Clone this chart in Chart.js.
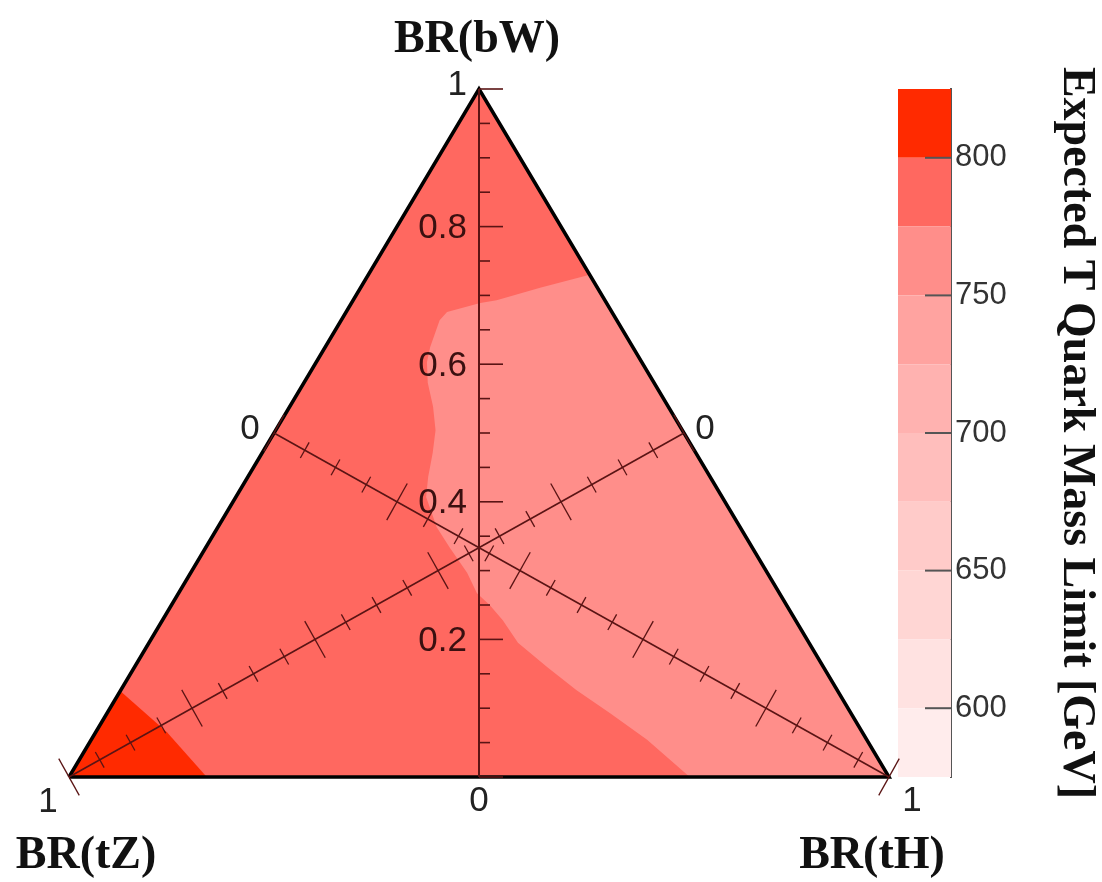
<!DOCTYPE html>
<html><head><meta charset="utf-8">
<script src="https://cdn.jsdelivr.net/npm/chart.js@4.4.1/dist/chart.umd.min.js"></script>
<style>html,body{margin:0;padding:0;background:#fff;overflow:hidden}#wrap{position:relative;width:1102px;height:882px}</style>
</head><body><div id="wrap"><canvas id="c"></canvas></div>
<script>
// ---------------- data ----------------
// colour levels of the expected limit (GeV)
const levelEdges  = [575, 600, 625, 650, 675, 700, 725, 750, 775, 800, 825];
const levelColors = ['#ffecec', '#ffe2e1', '#ffd6d4', '#ffcbc9', '#ffbebc', '#ffb2b0', '#ffa3a0', '#ff8e8a', '#ff6860', '#ff2a00'];
const colorbarTicks = [600, 650, 700, 750, 800];

// contour regions, each point is [BR(bW), BR(tH)]  (BR(tZ) = 1 - the two)
const regionAll = [[0, 0], [0, 1], [1, 0]];
const regionAllLevel = 775;
const regionLight = [[0.73, 0.27], [0.711, 0.219], [0.693, 0.175], [0.689, 0.157], [0.676, 0.123], [0.664, 0.120],
  [0.625, 0.128], [0.603, 0.135], [0.573, 0.151], [0.538, 0.175], [0.504, 0.195], [0.471, 0.208], [0.436, 0.220],
  [0.407, 0.232], [0.363, 0.267], [0.334, 0.297], [0.297, 0.337], [0.267, 0.364], [0.250, 0.388], [0.228, 0.415],
  [0.195, 0.450], [0.160, 0.503], [0.126, 0.556], [0.093, 0.613], [0.054, 0.678], [0, 0.757], [0, 1]];
const regionLightLevel = 750;
const regionCorner = [[0, 0], [0.125, 0], [0.065, 0.087], [0, 0.168]];
const regionCornerLevel = 800;

// ternary axis ticks
const axisTicks  = [0, 0.05, 0.1, 0.15, 0.2, 0.25, 0.3, 0.35, 0.4, 0.45, 0.5, 0.55, 0.6, 0.65, 0.7, 0.75, 0.8, 0.85, 0.9, 0.95, 1];
const majorTicks = [0, 0.2, 0.4, 0.6, 0.8, 1];
const vertLabels = ['0', '0.2', '0.4', '0.6', '0.8', '1'];

const titleTop = 'BR(bW)', titleLeft = 'BR(tZ)', titleRight = 'BR(tH)';
const cbTitle = 'Expected T Quark Mass Limit [GeV]';

// ---------------- layout (pixels) ----------------
const L = { left: 69, triRight: 889, top: 89, bottom: 777, barLeft: 898, barRight: 951, W: 1102, H: 882 };
const xMax = (L.barRight - L.left) / (L.triRight - L.left);
const cbX0 = (L.barLeft - L.left) / (L.triRight - L.left);

const toXY = p => ({ x: p[1] + p[0] / 2, y: p[0] });
const colorOf = lvl => levelColors[levelEdges.indexOf(lvl)];

function region(points, lvl, order) {
  return { data: points.map(toXY), showLine: true, fill: 'shape', backgroundColor: colorOf(lvl),
    borderColor: 'rgba(0,0,0,0)', borderWidth: 0, pointRadius: 0, tension: 0, order };
}

const datasets = [];
datasets.push({ data: [[0, 0], [0, 1], [1, 0], [0, 0]].map(toXY), showLine: true, fill: false, borderColor: '#000',
  borderWidth: 3.5, pointRadius: 0, order: 0, clip: false, borderJoinStyle: 'miter' });
datasets.push(region(regionAll, regionAllLevel, 10));
datasets.push(region(regionLight, regionLightLevel, 9));
datasets.push(region(regionCorner, regionCornerLevel, 8));
for (let i = 0; i < levelColors.length; i++) {
  const a = levelEdges[i], b = levelEdges[i + 1];
  datasets.push({ data: [{ x: cbX0, y: a }, { x: xMax, y: a }, { x: xMax, y: b }, { x: cbX0, y: b }],
    yAxisID: 'yc', showLine: true, fill: 'shape', backgroundColor: levelColors[i], borderColor: 'rgba(0,0,0,0)',
    borderWidth: 0, pointRadius: 0, order: 5 });
}

const sans = '"Liberation Sans", Arial, Helvetica, sans-serif';
const serif = '"Liberation Serif", "Times New Roman", serif';

const ternPlugin = {
  id: 'tern',
  afterDatasetsDraw(chart) {
    const { ctx, scales } = chart;
    const xs = scales.x, ys = scales.y, yc = scales.yc;
    const P = (bW, tH) => [xs.getPixelForValue(tH + bW / 2), ys.getPixelForValue(bW)];
    const seg = (a, b) => { ctx.beginPath(); ctx.moveTo(a[0], a[1]); ctx.lineTo(b[0], b[1]); ctx.stroke(); };
    const text = (s, x, y, font, align, base, color) => {
      ctx.font = font; ctx.textAlign = align; ctx.textBaseline = base; ctx.fillStyle = color; ctx.fillText(s, x, y);
    };
    ctx.save();
    // colour bar tick marks
    ctx.strokeStyle = '#555'; ctx.lineWidth = 2;
    for (const v of colorbarTicks) { const py = yc.getPixelForValue(v); seg([yc.left - 26, py], [yc.left, py]); }

    const axisColor = '#5a1414';
    // vertical BR(bW) axis
    ctx.strokeStyle = axisColor; ctx.lineWidth = 2;
    seg(P(0, 0.5), P(1, 0));
    ctx.lineWidth = 1.6;
    for (const v of axisTicks) {
      const p = P(v, (1 - v) / 2);
      const len = majorTicks.includes(v) ? 24 : 11;
      seg(p, [p[0] + len, p[1]]);
    }
    majorTicks.forEach((v, i) => {
      const p = P(v, (1 - v) / 2);
      if (v === 0) text(vertLabels[i], p[0], p[1] + 24, '35px ' + sans, 'center', 'middle', '#222');
      else text(vertLabels[i], p[0] - 12, p[1] + (v === 1 ? -4 : 2), '35px ' + sans, 'right', 'middle', v === 1 ? '#222' : '#3a1010');
    });

    // diagonal axes
    const diag = (fn) => {
      const p0 = fn(0), p1 = fn(1);
      const dx = p1[0] - p0[0], dy = p1[1] - p0[1], n = Math.hypot(dx, dy);
      const nx = -dy / n, ny = dx / n;
      ctx.strokeStyle = axisColor; ctx.lineWidth = 1.6;
      seg(p0, p1);
      ctx.lineWidth = 1.3;
      for (const v of axisTicks) {
        const p = fn(v), h = majorTicks.includes(v) ? 21 : 9;
        seg([p[0] - nx * h, p[1] - ny * h], [p[0] + nx * h, p[1] + ny * h]);
      }
      return [p0, p1];
    };
    const tz = diag(v => P((1 - v) / 2, (1 - v) / 2));
    const th = diag(v => P((1 - v) / 2, v));
    const f = '35px ' + sans;
    text('0', tz[0][0] + 21, tz[0][1] - 4, f, 'center', 'middle', '#222');
    text('1', tz[1][0] - 21, tz[1][1] + 25, f, 'center', 'middle', '#222');
    text('0', th[0][0] - 24, th[0][1] - 4, f, 'center', 'middle', '#222');
    text('1', th[1][0] + 23, th[1][1] + 24, f, 'center', 'middle', '#222');

    // axis titles
    const tf = 'bold 46px ' + serif;
    const top = P(1, 0), bl = P(0, 0), br = P(0, 1);
    text(titleTop, top[0] - 2, top[1] - 37, tf, 'center', 'alphabetic', '#111');
    text(titleLeft, bl[0] + 17, bl[1] + 91, tf, 'center', 'alphabetic', '#111');
    text(titleRight, br[0] - 17, br[1] + 91, tf, 'center', 'alphabetic', '#111');
    ctx.restore();
  }
};

new Chart(document.getElementById('c'), {
  type: 'scatter',
  data: { datasets },
  options: {
    responsive: true, maintainAspectRatio: false, animation: false, events: [],
    layout: { padding: { left: L.left, top: L.top, bottom: L.H - L.bottom, right: 0 } },
    plugins: { legend: { display: false }, tooltip: { enabled: false }, title: { display: false } },
    scales: {
      x: { type: 'linear', min: 0, max: xMax, display: false },
      y: { type: 'linear', min: 0, max: 1, display: false },
      yc: {
        type: 'linear', position: 'right', min: levelEdges[0], max: levelEdges[levelEdges.length - 1],
        afterBuildTicks: s => { s.ticks = colorbarTicks.map(v => ({ value: v })); },
        afterFit: s => { s.width = L.W - L.barRight; },
        grid: { display: false, drawTicks: false },
        border: { display: true, color: '#555', width: 2 },
        ticks: { padding: 4, color: '#333', font: { family: sans, size: 31 } },
        title: { display: true, text: cbTitle, color: '#111', padding: 3,
          font: { family: serif, size: 46, weight: 'bold', lineHeight: 1.0 } }
      }
    }
  },
  plugins: [ternPlugin]
});
</script></body></html>
